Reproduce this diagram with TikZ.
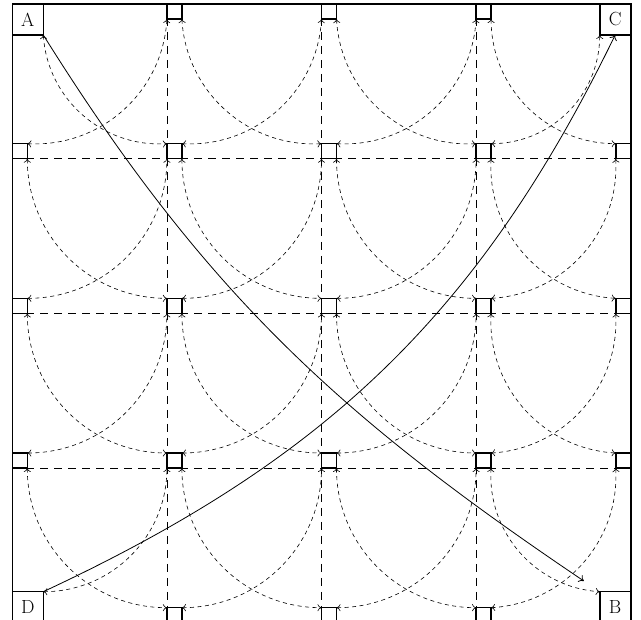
\documentclass[tikz,border=0pt]{standalone}
\usepackage{fontspec}
\usetikzlibrary{arrows.meta}
\begin{document}
\begin{tikzpicture}[x=1pt,y=1pt,
  sq/.style={draw, line width=1.6pt, fill=white, minimum size=15pt, inner sep=0pt, outer sep=0pt},
  big/.style={draw, line width=1.6pt, fill=white, minimum size=31pt, inner sep=0pt, outer sep=0pt, font=\fontsize{19}{22}\selectfont},
  gridline/.style={line width=0.8pt, dash pattern=on 8pt off 6pt},
  arcline/.style={line width=0.6pt, dash pattern=on 4pt off 3.5pt, >={To[length=4pt,width=7pt]}, <->},
  mainline/.style={line width=0.8pt, >={To[length=5pt,width=8pt]}, ->},
]
\useasboundingbox (0,0) rectangle (641,-620);
% corner nodes
\node[big,anchor=north west] (n00) at (12.3,-4) {A};
\node[big,anchor=north east] (n40) at (630.7,-4) {C};
\node[big,anchor=south west] (n04) at (12.3,-622.7) {D};
\node[big,anchor=south east] (n44) at (630.7,-622.7) {B};
% small nodes
\foreach \i in {0,...,4} {
  \foreach \j in {0,...,4} {
    \pgfmathsetmacro\xx{12.3+154.6*\i}
    \pgfmathsetmacro\yy{-4-154.675*\j}
    \ifnum\j=0
      \ifnum\i=4 \def\anc{north east}\else\def\anc{north west}\fi
    \else
      \ifnum\i=4 \def\anc{south east}\else\def\anc{south west}\fi
    \fi
    \pgfmathtruncatemacro\corner{((\i==0)||(\i==4))&&((\j==0)||(\j==4))}
    \ifnum\corner=0
      \node[sq,anchor=\anc] (n\i\j) at (\xx,\yy) {};
    \fi
  }
}
% frame
\draw[line width=1.6pt] (n00.north west) rectangle (n44.south east);
% grid lines
\foreach \k in {1,2,3} {
  \draw[gridline] (n0\k.south west) -- (n4\k.south east);
  \draw[gridline] (n\k0.north west) -- (n\k4.south west);
}
% arcs
\foreach \i in {0,...,3} {
  \foreach \j in {0,...,3} {
    \pgfmathtruncatemacro\ii{\i+1}
    \pgfmathtruncatemacro\jj{\j+1}
    \draw[arcline] (n\i\j.south east) to[bend right=45] (n\ii\jj.north west);
    \draw[arcline] (n\i\jj.north east) to[bend right=45] (n\ii\j.south west);
  }
}
% main arrows
\draw[mainline, shorten >=19pt] (n00.south east) to[out=-58,in=146] (n44.north west);
\draw[mainline] (n04.north east) to[out=25,in=244] (n40.south);
\end{tikzpicture}
\end{document}
